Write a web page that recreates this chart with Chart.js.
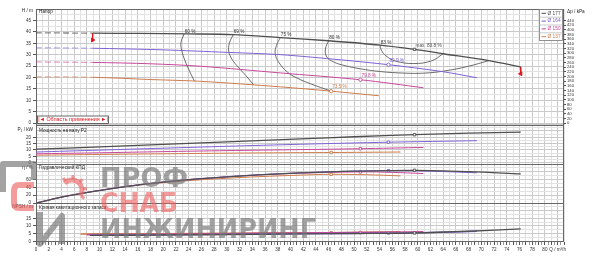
<!DOCTYPE html>
<html>
<head>
<meta charset="utf-8">
<script src="https://cdn.jsdelivr.net/npm/chart.js@4.4.1/dist/chart.umd.min.js"></script>
<style>
  html, body { margin: 0; padding: 0; background: #fff; }
</style>
</head>
<body>
<canvas id="pump" width="600" height="259"></canvas>
<script>
// impeller diameters
const diameters = ['Ø 177', 'Ø 164', 'Ø 150', 'Ø 137'];
const colors = ['#4f4f4f', '#7f62d6', '#c8489c', '#cf7c4c'];

// operating range (Q, m3/h) and best efficiency points
const rangeQ = [8.9, 76.2];
const qBep = [59.5, 55.4, 51.0, 46.4];
const etaBep = [83.8, 82.9, 79.8, 73.5];

// head H, m  [Q, H]
const h177 = [[0, 39.6], [8.9, 39.4], [16, 39.3], [24, 39.1], [31, 38.8], [38.4, 37.5], [46, 36.1], [54.1, 34.2], [59.5, 32.3], [64, 30.4], [71.2, 27.4], [76.2, 24.6]];
const h164 = [[0, 33.0], [8.9, 32.8], [20, 32.1], [30, 31.0], [38.4, 30.0], [48, 27.7], [55.4, 25.6], [63.6, 22.7], [69.3, 19.9]];
const h150 = [[0, 26.8], [8.9, 26.6], [18, 26.0], [26, 24.9], [38.4, 22.0], [51, 19.0], [60.9, 15.5]];
const h137 = [[0, 20.3], [8.9, 20.1], [18, 19.1], [26, 18.3], [38.4, 15.9], [46.4, 14.0], [53.9, 12.0]];

// shaft power P2, kW
const p177 = [[0, 10.7], [10, 12.4], [20, 14.4], [30, 16.4], [41.6, 18.7], [50, 20.4], [59.5, 22.0], [68, 23.2], [76.2, 24.0]];
const p164 = [[0, 8.4], [10, 9.9], [20, 11.4], [30, 12.9], [41.6, 14.5], [55.4, 16.1], [69.3, 17.3]];
const p150 = [[0, 7.0], [10, 7.8], [20, 8.7], [30, 9.5], [41.6, 10.3], [51, 11.0], [60.9, 12.0]];
const p137 = [[0, 5.9], [10, 6.5], [20, 7.0], [30, 7.5], [41.6, 7.9], [46.4, 8.0], [57.3, 8.4]];

// hydraulic efficiency, %
const e177 = [[0, 0], [5, 18], [10, 32], [15, 44], [20, 53.5], [25, 61], [30, 67], [35, 72], [41.6, 77], [50, 81.5], [59.5, 83.8], [68, 80.5], [76.2, 74.5]];
const e164 = [[0, 0], [5, 18], [10, 32], [15, 44], [20, 53.5], [25, 61], [30, 67.5], [35, 72.5], [41.6, 77.5], [48, 81], [55.4, 82.9], [62, 81.5], [69.3, 77.5]];
const e150 = [[0, 0], [5, 18.5], [10, 32.5], [15, 44.5], [20, 54], [25, 61.5], [30, 67], [35, 72], [41.6, 76.5], [51, 79.8], [56, 78.5], [60.9, 75.5]];
const e137 = [[0, 0], [5, 18.5], [10, 32], [15, 43.5], [20, 52], [25, 58.5], [30, 63.5], [35, 67.5], [41.6, 71.5], [46.4, 73.5], [52, 72.5], [57.3, 69.5]];

// NPSH, m
const n177 = [[8.5, 3.8], [20, 4.1], [30, 4.4], [41.6, 4.8], [50, 5.1], [59.5, 5.4], [68, 6.5], [76.2, 8.1]];
const n164 = [[8.5, 3.9], [20, 4.2], [30, 4.5], [41.6, 4.9], [55.4, 5.3], [62, 5.7], [69.3, 6.5]];
const n150 = [[8, 4.2], [20, 4.6], [30, 5.0], [41.6, 5.4], [51, 5.7], [60.9, 6.3]];
const n137 = [[7, 4.7], [20, 5.0], [30, 5.2], [41.6, 5.5], [46.4, 5.6], [57.3, 6.3]];

// iso-efficiency lines in the head field
const isoLabels = ['60 %', '69 %', '75 %', '80 %', '83 %'];
const isoA = [[23.3, 39.1], [22.8, 35.5], [22.9, 31.9], [23.4, 27.5], [24.1, 23], [24.9, 18.4]];
const isoB = [[31, 38.8], [30.4, 35], [30.3, 31.5], [30.8, 28], [31.8, 24.5], [33, 20.8], [34.2, 16.8]];
const isoC = [[38.4, 37.5], [37.8, 34], [37.6, 30.4], [38.2, 26.5], [39.5, 22.4], [41, 19.8], [43.1, 17.3], [46.4, 14.0]];
const isoD = [[46, 36.1], [45.5, 32.5], [45.7, 29], [46.8, 26.8], [48.4, 25.3], [51, 23.8], [54.1, 22.6], [58, 21.9], [61, 21.9], [64.1, 22.8], [67.8, 24.8], [71.2, 27.4]];
const isoE = [[54.1, 34.2], [54.3, 31.9], [55, 29.5], [56.5, 27.2], [59.4, 26.1], [62.2, 27.3], [64, 30.4]];

// red range limits on the largest impeller
const rangeLeft = [[8.9, 39.4], [8.9, 36.4]];
const rangeRight = [[76.2, 24.6], [76.2, 21.6]];

const headCurves = [h177, h164, h150, h137];
const powerCurves = [p177, p164, p150, p137];
const etaCurves = [e177, e164, e150, e137];
const npshCurves = [n177, n164, n150, n137];
const isoCurves = [isoA, isoB, isoC, isoD, isoE];

const FONT = '"Liberation Sans", Arial, sans-serif';
const tickFont = { family: FONT, size: 4.6 };
const CLEAR = 'rgba(0,0,0,0)';

function fade(hex) {
  const n = parseInt(hex.slice(1), 16);
  return `rgba(${n >> 16},${(n >> 8) & 255},${n & 255},0.65)`;
}

function gridColor(major, minor) {
  return c => {
    const v = Math.round(c.tick.value * 1000) / 1000;
    if (Math.abs(v % major) < 1e-6) return '#c9c9c9';
    if (Math.abs(v % minor) < 1e-6) return '#e2e2e2';
    return CLEAR;
  };
}

const datasets = [];
diameters.forEach((d, i) => {
  const marker = (shape) => ({
    pointRadius: c => (c.raw && c.raw[0] === qBep[i]) ? 1.7 : 0,
    pointStyle: shape,
    pointBorderColor: colors[i],
    pointBackgroundColor: '#fff',
    pointBorderWidth: 0.9
  });
  const bw = i === 0 ? 1.3 : 1;
  datasets.push(Object.assign({
    label: d, data: headCurves[i], yAxisID: 'yH', borderColor: colors[i], borderWidth: bw, tension: 0.3,
    segment: {
      borderDash: c => c.p1.parsed.x <= rangeQ[0] + 0.01 ? [6, 3] : undefined,
      borderColor: c => c.p1.parsed.x <= rangeQ[0] + 0.01 ? fade(colors[i]) : undefined
    }
  }, marker(i === 0 ? 'rect' : 'circle')));
  datasets.push(Object.assign({ data: powerCurves[i], yAxisID: 'yP', borderColor: colors[i], borderWidth: bw, tension: 0.3 }, marker('rect')));
  datasets.push(Object.assign({ data: etaCurves[i], yAxisID: 'yE', borderColor: colors[i], borderWidth: bw, tension: 0.35 }, marker('rect')));
  datasets.push(Object.assign({ data: npshCurves[i], yAxisID: 'yN', borderColor: colors[i], borderWidth: 1.4, tension: 0.3 }, marker('rect')));
});
isoCurves.forEach(c => {
  datasets.push({ data: c, yAxisID: 'yH', borderColor: '#5c5c5c', borderWidth: 0.9, tension: 0.4, pointRadius: 0 });
});
datasets.push({ data: rangeLeft, yAxisID: 'yH', borderColor: '#e3131b', backgroundColor: '#e3131b', borderWidth: 1,
  pointStyle: 'triangle', rotation: 90, pointRadius: c => c.dataIndex === 1 ? 2.2 : 0 });
datasets.push({ data: rangeRight, yAxisID: 'yH', borderColor: '#e3131b', backgroundColor: '#e3131b', borderWidth: 1,
  pointStyle: 'triangle', rotation: -90, pointRadius: c => c.dataIndex === 1 ? 2.2 : 0 });

function leftAxis(weight, min, max, step, major, minor, labelled) {
  return {
    type: 'linear', position: 'left', stack: 'v', stackWeight: weight, min, max,
    border: { display: false },
    grid: { color: gridColor(major, minor), tickLength: 3, tickColor: c => labelled(c.tick.value) ? '#555' : CLEAR },
    ticks: { stepSize: step, includeBounds: false, autoSkip: false, font: tickFont, color: '#333', padding: 2,
      callback: v => labelled(v) ? String(v) : '' },
    afterFit: s => { s.width = 36; }
  };
}
function rightDummy(weight) {
  return {
    type: 'linear', position: 'right', stack: 'v', stackWeight: weight, min: 0, max: 1,
    border: { display: false }, grid: { display: false }, ticks: { display: false },
    afterFit: s => { s.width = 36; }
  };
}

const decor = {
  id: 'decor',
  beforeDatasetsDraw(chart) {
    const { ctx, chartArea: a, scales: s } = chart;
    ctx.save();
    ctx.strokeStyle = '#666';
    ctx.lineWidth = 1;
    [s.yH.bottom, s.yP.bottom, s.yE.bottom].forEach(y => {
      const yy = Math.round(y) + 0.5;
      ctx.beginPath(); ctx.moveTo(a.left, yy); ctx.lineTo(a.right, yy); ctx.stroke();
    });
    ctx.strokeRect(Math.round(a.left) + 0.5, Math.round(a.top) + 0.5, Math.round(a.width) - 1, Math.round(a.height) - 1);
    ctx.restore();
  },
  afterDatasetsDraw(chart) {
    const { ctx, chartArea: a, scales: s } = chart;
    const { x, yH, yP, yE, yN } = s;
    ctx.save();
    ctx.textBaseline = 'middle';
    ctx.font = `4.7px ${FONT}`;
    ctx.fillStyle = '#222';
    ctx.textAlign = 'left';
    ctx.fillText('Напор', a.left + 3, yH.top + 3);
    ctx.fillText('Мощность на валу P2', a.left + 3, yP.top + 6.5);
    ctx.fillText('Гидравлический КПД', a.left + 3, yE.top + 4);
    ctx.fillText('Кривая кавитационного запаса', a.left + 3, yN.top + 4.4);
    ctx.textAlign = 'right';
    ctx.fillText('H / m', a.left - 3, yH.top + 2);
    ctx.fillText('P₂ / kW', a.left - 3, yP.top + 5.5);
    ctx.fillText('η / %', a.left - 3, yE.top + 3.5);
    ctx.fillText('NPSH / m', a.left - 3, yN.top + 3.3);
    ctx.textAlign = 'left';
    ctx.fillText('Δp / kPa', a.right + 3, yH.top + 2.5);

    // iso-efficiency labels
    ctx.fillStyle = '#333';
    isoCurves.forEach((c, k) => {
      ctx.fillText(isoLabels[k], x.getPixelForValue(c[0][0]) + 0.5, yH.getPixelForValue(c[0][1]) - 2.6);
    });
    // best efficiency labels
    diameters.forEach((d, i) => {
      const pt = headCurves[i].find(p => p[0] === qBep[i]);
      if (!pt) return;
      ctx.fillStyle = colors[i];
      const txt = (i === 0 ? 'max. ' : '') + etaBep[i].toFixed(1) + ' %';
      ctx.fillText(txt, x.getPixelForValue(pt[0]) + 1, yH.getPixelForValue(pt[1]) - 4);
    });

    // legend
    const lx = a.right - 24.5, ly = a.top + 0.5;
    ctx.fillStyle = '#fff';
    ctx.fillRect(lx, ly, 23, 31);
    ctx.strokeStyle = '#777';
    ctx.lineWidth = 0.8;
    ctx.strokeRect(lx, ly, 23, 31);
    ctx.font = `4.8px ${FONT}`;
    diameters.forEach((d, i) => {
      const yy = ly + 3.8 + i * 7.8;
      if (i > 0) {
        ctx.strokeStyle = '#bbb';
        ctx.beginPath(); ctx.moveTo(lx, yy - 3.9); ctx.lineTo(lx + 23, yy - 3.9); ctx.stroke();
      }
      ctx.strokeStyle = colors[i];
      ctx.lineWidth = 1;
      ctx.beginPath(); ctx.moveTo(lx + 2, yy); ctx.lineTo(lx + 6.5, yy); ctx.stroke();
      ctx.fillStyle = colors[i];
      ctx.fillText(d, lx + 8, yy);
      ctx.lineWidth = 0.8;
    });

    // range box
    const bx = a.left + 1.5, by = yH.bottom - 8.5;
    ctx.fillStyle = '#fff';
    ctx.fillRect(bx, by, 71, 7.5);
    ctx.strokeStyle = '#444';
    ctx.strokeRect(bx, by, 71, 7.5);
    ctx.fillStyle = '#e3131b';
    ctx.font = `5.4px ${FONT}`;
    ctx.textAlign = 'center';
    ctx.fillText('|◄ Область применения ►|', bx + 35.5, by + 4);
    ctx.restore();
  },
  afterDraw(chart) {
    const ctx = chart.ctx;
    const gray = 'rgba(120,120,120,0.68)';
    const red = 'rgba(238,96,96,0.62)';
    function word(text, x0, top, w, h, color) {
      ctx.save();
      ctx.font = `bold 30px "DejaVu Sans"`;
      const m = ctx.measureText(text);
      const asc = m.actualBoundingBoxAscent;
      ctx.translate(x0, top);
      ctx.scale(w / m.width, h / asc);
      ctx.fillStyle = color;
      ctx.textBaseline = 'alphabetic';
      ctx.textAlign = 'left';
      ctx.fillText(text, 0, asc);
      ctx.restore();
    }
    word('ПРОФ', 100, 167, 88, 20, gray);
    word('СНАБ', 100, 193, 78, 19, red);
    word('ИНЖИНИРИНГ', 100, 219, 216, 19, gray);

    ctx.save();
    ctx.lineWidth = 6;
    ctx.lineJoin = 'round';
    ctx.strokeStyle = gray;
    ctx.beginPath(); ctx.moveTo(3, 192); ctx.lineTo(3, 164); ctx.lineTo(34, 164); ctx.lineTo(34, 180); ctx.stroke();
    ctx.beginPath(); ctx.moveTo(40, 212); ctx.lineTo(40, 244); ctx.lineTo(62, 216); ctx.lineTo(62, 244); ctx.stroke();
    ctx.strokeStyle = red;
    ctx.beginPath(); ctx.moveTo(34, 185); ctx.lineTo(19, 185); ctx.quadraticCurveTo(14, 185, 14, 191); ctx.lineTo(14, 203); ctx.quadraticCurveTo(14, 208, 19, 208); ctx.lineTo(34, 208); ctx.stroke();
    ctx.lineWidth = 5;
    ctx.beginPath(); ctx.arc(72, 190, 10, -2.4, 0.6); ctx.stroke();
    ctx.lineWidth = 3;
    for (let t = -2.2; t < 0.6; t += 0.7) {
      ctx.beginPath();
      ctx.moveTo(72 + Math.cos(t) * 11, 190 + Math.sin(t) * 11);
      ctx.lineTo(72 + Math.cos(t) * 15, 190 + Math.sin(t) * 15);
      ctx.stroke();
    }
    ctx.restore();
  }
};

new Chart(document.getElementById('pump'), {
  type: 'line',
  data: { datasets },
  plugins: [decor],
  options: {
    responsive: false,
    animation: false,
    events: [],
    devicePixelRatio: 1,
    layout: { padding: { top: 9, left: 0, right: 0, bottom: 0 } },
    plugins: { legend: { display: false }, tooltip: { enabled: false } },
    scales: {
      x: {
        type: 'linear', position: 'bottom', min: 0, max: 83,
        border: { display: false },
        grid: {
          tickLength: 3,
          color: c => {
            const v = c.tick.value;
            if (!Number.isInteger(v)) return CLEAR;
            return v % 2 === 0 ? '#c9c9c9' : '#e2e2e2';
          },
          tickColor: c => Number.isInteger(c.tick.value) ? '#555' : '#999'
        },
        ticks: {
          stepSize: 0.5, includeBounds: false, autoSkip: false, maxRotation: 0, minRotation: 0,
          font: tickFont, color: '#333', padding: 2,
          callback: v => v === 82 ? 'Q / m³/h' : (v % 2 === 0 && v <= 80 ? String(v) : '')
        },
        afterFit: s => { s.height = 17; }
      },
      // left axes are stacked from the last defined (top) to the first (bottom)
      yN: leftAxis(39, -0.5, 25, 2.5, 5, 2.5, v => v >= 0 && v <= 15 && v % 5 === 0),
      yE: leftAxis(39, 0, 100, 10, 20, 10, v => v >= 0 && v <= 60 && v % 20 === 0),
      yP: leftAxis(39.5, -1, 30, 2.5, 5, 2.5, v => v >= 0 && v <= 20 && v % 5 === 0),
      yH: leftAxis(115.5, -0.6, 50, 2.5, 5, 2.5, v => v >= 0 && v <= 45 && v % 5 === 0),
      yK: {
        type: 'linear', position: 'right', stack: 'v', stackWeight: 115.5, min: -0.6 * 9.79, max: 50 * 9.79,
        border: { display: false },
        grid: { drawOnChartArea: false, tickLength: 2, tickColor: c => c.tick.value <= 440 ? '#555' : CLEAR },
        ticks: { stepSize: 20, includeBounds: false, autoSkip: false, font: { family: FONT, size: 4.2 }, color: '#333', padding: 1,
          callback: v => v >= 0 && v <= 440 ? String(v) : '' },
        afterFit: s => { s.width = 36; }
      },
      yR2: rightDummy(39.5),
      yR3: rightDummy(39),
      yR4: rightDummy(39)
    }
  }
});
</script>
</body>
</html>
